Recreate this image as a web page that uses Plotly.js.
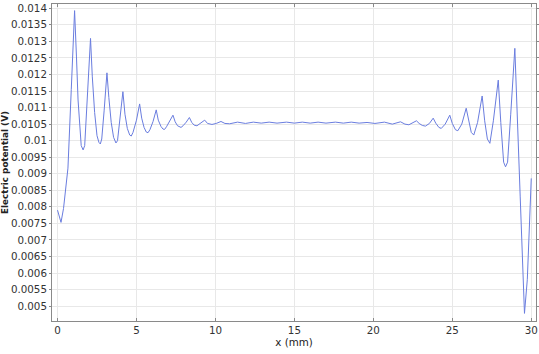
<!DOCTYPE html>
<html>
<head>
<meta charset="utf-8">
<script src="https://cdn.plot.ly/plotly-3.0.1.min.js"></script>
<style>html,body{margin:0;padding:0;background:#fff;}#chart{width:539px;height:354px;}</style>
</head>
<body>
<div id="chart"></div>
<script>
const xPos = [0, 0.1, 0.22, 0.38, 0.52, 0.66, 0.87, 1.08,
  1.2, 1.3, 1.5, 1.62, 1.72, 1.85, 1.97, 2.09,
  2.2, 2.35, 2.5, 2.62, 2.71, 2.8, 2.95, 3.13,
  3.25, 3.4, 3.55, 3.7, 3.8, 3.97, 4.14,
  4.27, 4.42, 4.57, 4.67, 4.78, 5.0, 5.2,
  5.33, 5.48, 5.62, 5.73, 5.85, 6.05, 6.25,
  6.38, 6.55, 6.68, 6.78, 6.9, 7.1, 7.31,
  7.45, 7.6, 7.82, 7.95, 8.15, 8.35,
  8.5, 8.65, 8.83, 9.0, 9.15, 9.32, 9.5, 9.78, 10.05, 10.35, 10.6, 10.9,
  11.4, 11.9, 12.4, 12.9, 13.4, 13.9, 14.5, 15.0, 15.5, 16.0, 16.5, 17.0,
  17.6, 18.1, 18.6, 19.1, 19.6, 20.1, 20.7, 21.2,
  21.72, 22.0, 22.25, 22.5, 22.73,
  22.9, 23.1, 23.3, 23.55, 23.79,
  23.95, 24.15, 24.3, 24.55, 24.84,
  25.0, 25.2, 25.35, 25.6, 25.88,
  26.05, 26.2, 26.36, 26.6, 26.89,
  27.05, 27.22, 27.38, 27.6, 27.91,
  28.07, 28.25, 28.37, 28.5, 28.7, 28.96,
  29.3, 29.57, 29.75, 30.0];
const potential = [0.0079, 0.0077, 0.00753, 0.00795, 0.0085, 0.00917, 0.01155, 0.01393,
  0.01253, 0.01123, 0.00985, 0.00972, 0.00985, 0.0111, 0.0121, 0.01309,
  0.01195, 0.01085, 0.01015, 0.00995, 0.0099, 0.01005, 0.0109, 0.01205,
  0.0113, 0.01055, 0.0101, 0.00993, 0.0100, 0.01065, 0.01148,
  0.0108, 0.01037, 0.01017, 0.01014, 0.01025, 0.01062, 0.01111,
  0.01068, 0.0104, 0.01026, 0.01024, 0.01033, 0.01058, 0.01093,
  0.01062, 0.01043, 0.01035, 0.01034, 0.01042, 0.01058, 0.01077,
  0.01057, 0.01045, 0.0104, 0.01045, 0.01056, 0.0107,
  0.01055, 0.01047, 0.01045, 0.0105, 0.01055, 0.01062, 0.01052, 0.01049, 0.01052, 0.01058, 0.01052, 0.01051,
  0.01056, 0.01052, 0.01056, 0.01053, 0.01056, 0.01053, 0.01056, 0.01053, 0.01056, 0.01053, 0.01056, 0.01053,
  0.01056, 0.01053, 0.01056, 0.01053, 0.01055, 0.01052, 0.01056, 0.0105,
  0.01057, 0.0105, 0.01048, 0.01053, 0.0106,
  0.01052, 0.01046, 0.01044, 0.01052, 0.01068,
  0.01053, 0.0104, 0.01037, 0.0105, 0.01077,
  0.01052, 0.01033, 0.0103, 0.0105, 0.01098,
  0.01055, 0.01025, 0.01017, 0.01055, 0.01135,
  0.0106, 0.01005, 0.00992, 0.0106, 0.01183,
  0.01055, 0.00935, 0.00921, 0.00935, 0.0108, 0.01279,
  0.0083, 0.00478, 0.0058, 0.00886];
const yTicks = [0.005, 0.0055, 0.006, 0.0065, 0.007, 0.0075, 0.008, 0.0085, 0.009, 0.0095, 0.01, 0.0105, 0.011, 0.0115, 0.012, 0.0125, 0.013, 0.0135, 0.014];
const yTickText = ['0.005', '0.0055', '0.006', '0.0065', '0.007', '0.0075', '0.008', '0.0085', '0.009', '0.0095', '0.01', '0.0105', '0.011', '0.0115', '0.012', '0.0125', '0.013', '0.0135', '0.014'];
const xTicks = [0, 5, 10, 15, 20, 25, 30];

const fam = 'DejaVu Sans, Verdana, sans-serif';
const font = {family: fam, size: 10.3, color: '#333'};
Plotly.newPlot('chart', [{
  x: xPos, y: potential, type: 'scatter', mode: 'lines',
  line: {color: '#6a7ddf', width: 1}, hoverinfo: 'skip'
}], {
  width: 539, height: 354,
  margin: {l: 52, r: 3, t: 4, b: 33},
  paper_bgcolor: '#fff', plot_bgcolor: '#fff',
  showlegend: false,
  font: font,
  xaxis: {
    range: [-0.35, 30.3], tickvals: xTicks, ticktext: xTicks.map(String),
    showgrid: true, gridcolor: '#e8e8e8', gridwidth: 1,
    zeroline: false, showline: true, linecolor: '#8a8a8a', linewidth: 1, mirror: 'ticks',
    ticks: 'inside', ticklen: 3, tickcolor: '#8a8a8a',
    tickfont: font, automargin: false,
    title: {text: 'x (mm)', font: {family: fam, size: 10.3, color: '#222'}, standoff: 0}
  },
  yaxis: {
    range: [0.00455, 0.01413], tickvals: yTicks, ticktext: yTickText,
    showgrid: true, gridcolor: '#e8e8e8', gridwidth: 1,
    zeroline: false, showline: true, linecolor: '#8a8a8a', linewidth: 1, mirror: 'ticks',
    ticks: 'outside', ticklen: 2, tickcolor: '#8a8a8a',
    tickfont: font, automargin: false,
    title: {text: 'Electric potential (V)', font: {family: fam, size: 8.8, color: '#222', weight: 'bold'}, standoff: 2}
  }
}, {staticPlot: true, displayModeBar: false});
</script>
</body>
</html>
